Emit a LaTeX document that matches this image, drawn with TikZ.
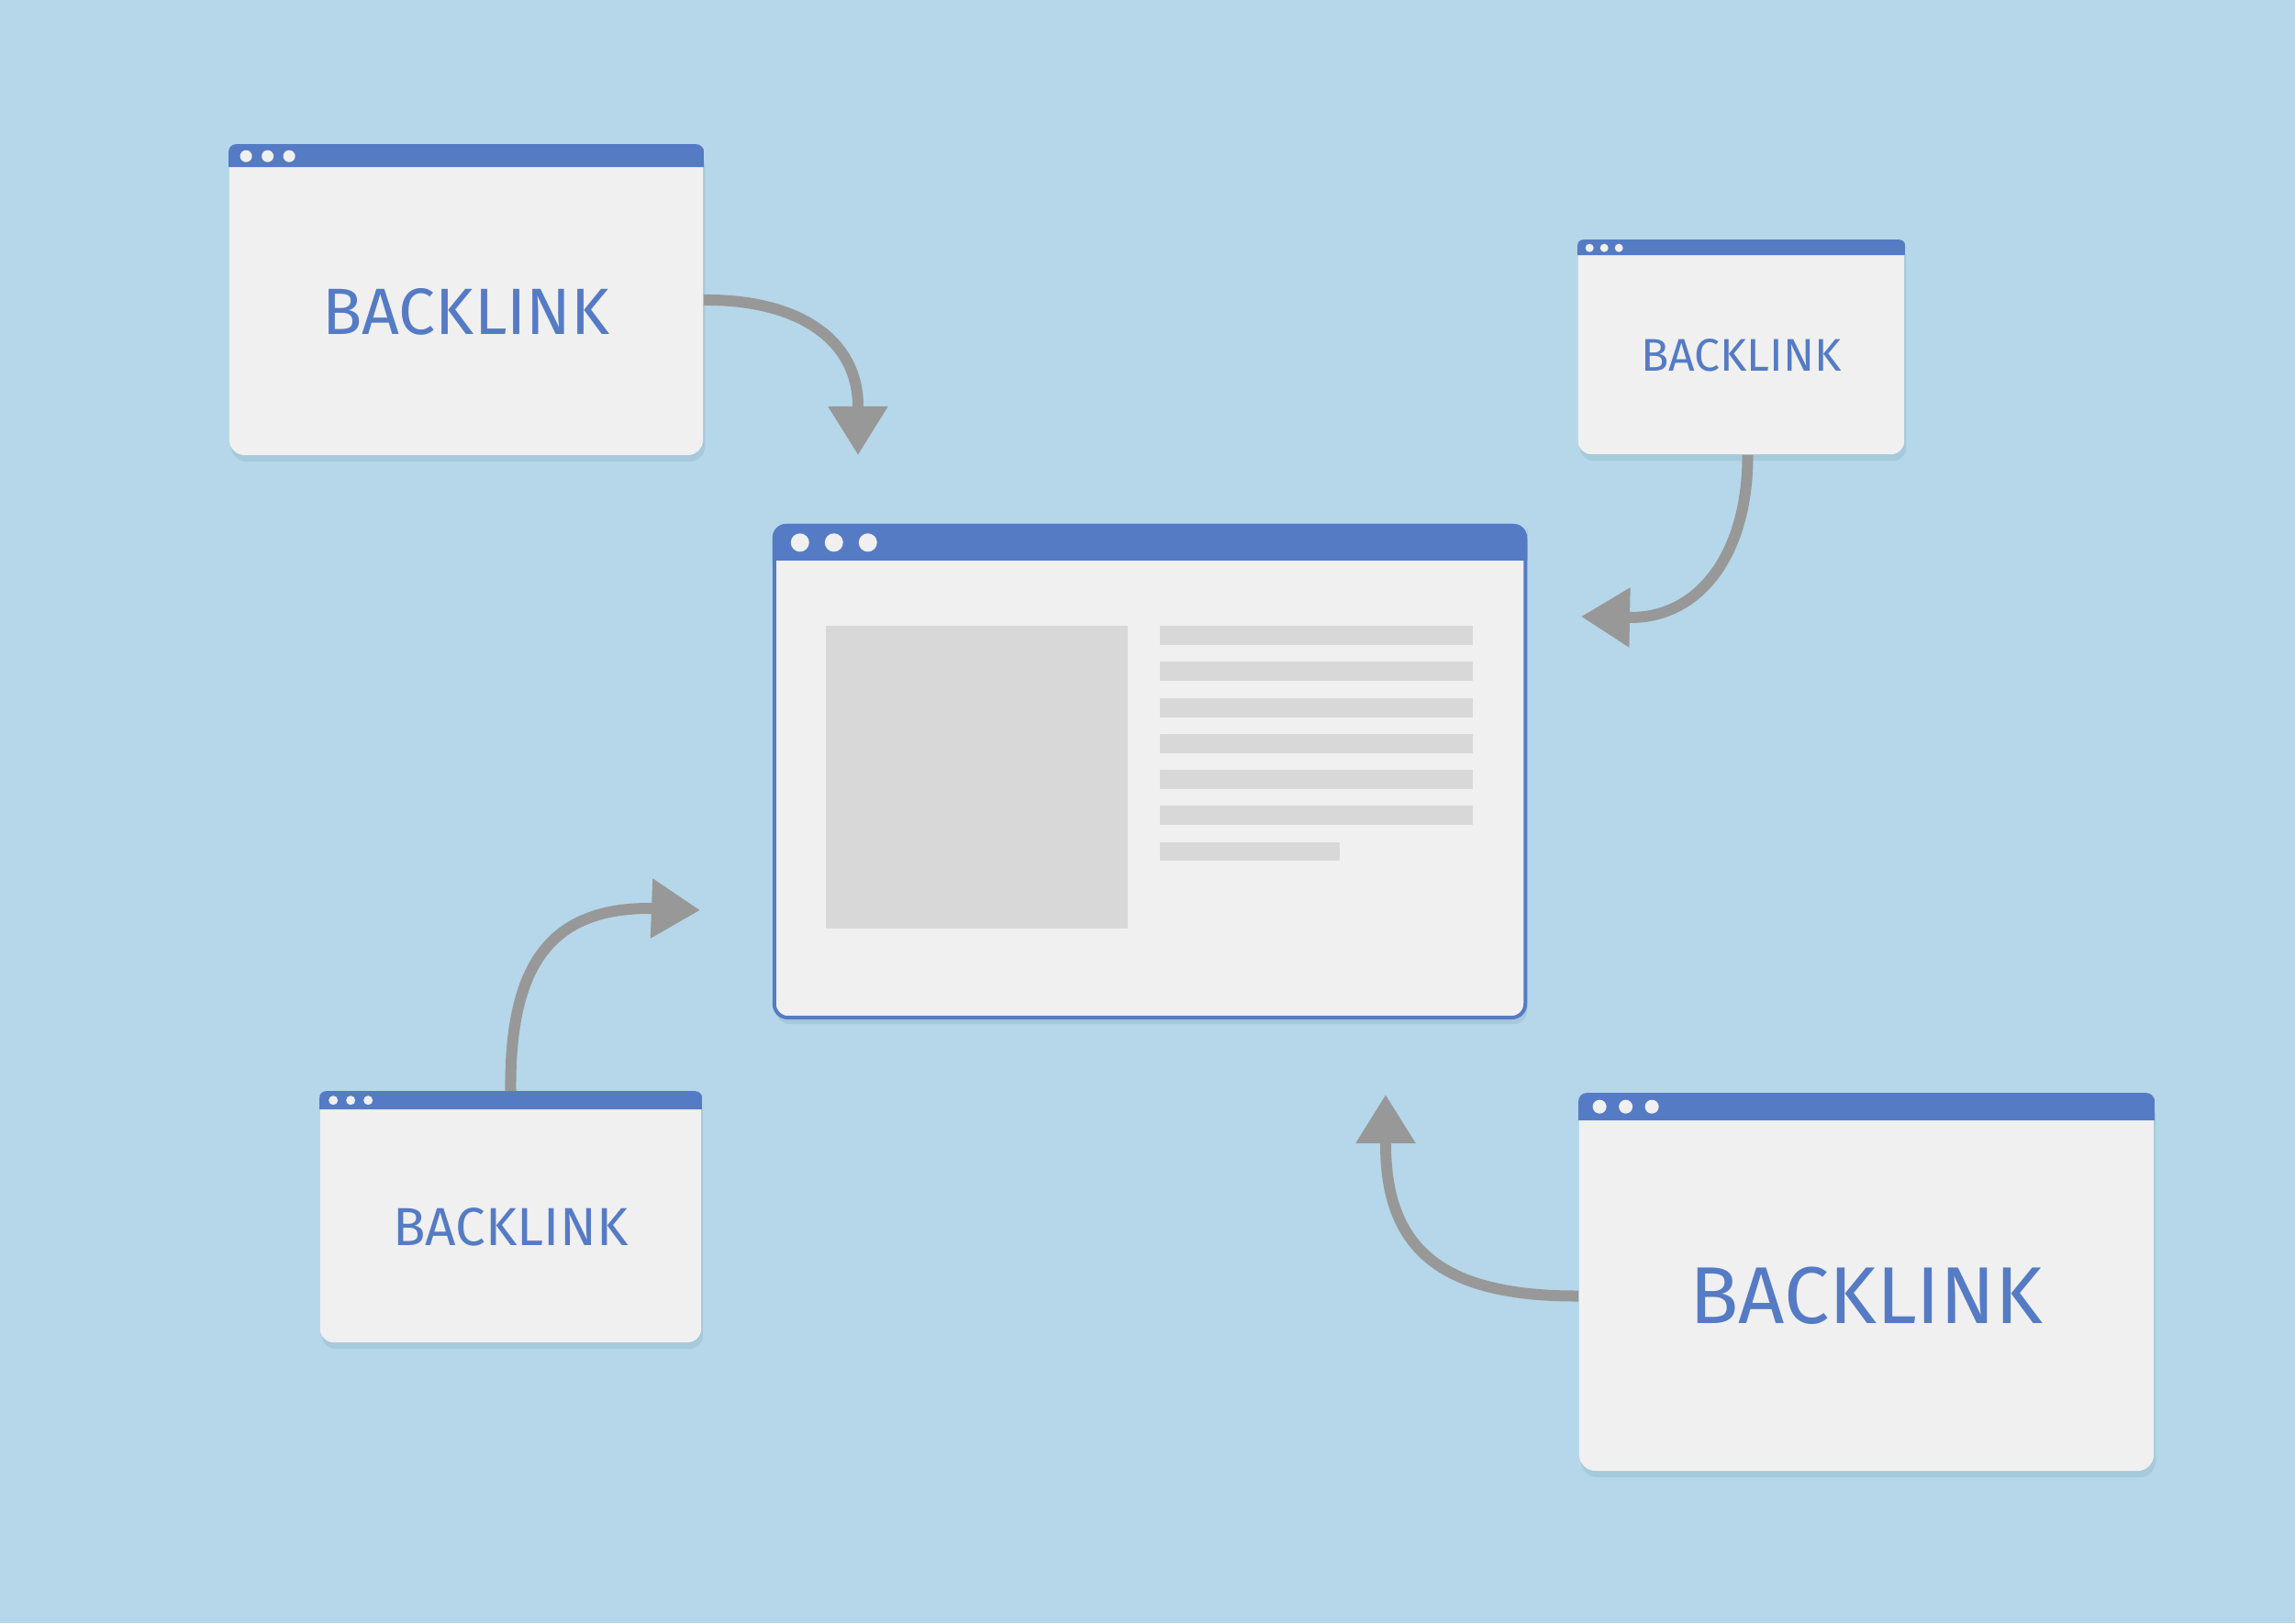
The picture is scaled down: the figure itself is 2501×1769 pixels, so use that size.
\documentclass[tikz,border=0pt]{standalone}
\usepackage{fontspec}
\setsansfont{Fira Sans}
\usepackage{tikz}
\usetikzlibrary{arrows.meta, positioning, calc, shadows}
\definecolor{fondo}{HTML}{B5D7E9}
\definecolor{azul}{HTML}{557BC5}
\definecolor{ventana}{HTML}{F0F0F0}
\definecolor{relleno}{HTML}{D8D8D8}
\definecolor{flechagris}{HTML}{989898}
\definecolor{sombra}{HTML}{5C8199}
\tikzset{
  every picture/.style={font=\sffamily, >=Triangle},
  marco/.style={rectangle, fill=ventana, inner sep=0pt, rounded corners=#1,
                drop shadow={shadow xshift=0.6pt, shadow yshift=-2pt, opacity=0.16, fill=sombra}},
  marco/.default=0.14cm,
  rotulo/.style={text=azul, inner sep=0pt},
  punto/.style={fill=ventana},
  flecha/.style={-{Triangle[length=0.53cm, width=0.62cm]}, line width=0.12cm, flechagris},
}
\begin{document}
\begin{tikzpicture}[x=0.01cm, y=0.01cm]
  \fill[fondo] (0,0) rectangle (2501,1769);
  \useasboundingbox (0,0) rectangle (2501,1769);

  % ventanas
  \node[marco=0.15cm, draw=azul, line width=0.04cm,
        minimum width=8.18cm, minimum height=5.36cm] (web) at (1253,928) {};
  \node[marco=0.17cm, minimum width=5.16cm, minimum height=3.38cm] (arribaizq) at (508,1442) {};
  \node[marco=0.14cm, minimum width=3.55cm, minimum height=2.33cm] (arribader) at (1897.5,1390.5) {};
  \node[marco=0.15cm, minimum width=4.15cm, minimum height=2.73cm] (abajoizq) at (556.5,442.5) {};
  \node[marco=0.18cm, minimum width=6.26cm, minimum height=4.11cm] (abajoder) at (2034,371.5) {};

  % barras de titulo y puntos
  \foreach \n/\b/\r in {web/40/0.15cm, arribaizq/25/0.08cm, arribader/17/0.06cm,
                        abajoizq/20/0.07cm, abajoder/30/0.09cm}
    \fill[azul] ($(\n.north west)+(0,-\b)$) [rounded corners=\r] -- (\n.north west)
      -- (\n.north east) -- ($(\n.north east)+(0,-\b/2)$) [sharp corners]
      -- ($(\n.north east)+(0,-\b)$) -- cycle;
  \foreach \n/\dx/\s/\dy/\r in {web/30/37/20.5/10, arribaizq/19/23.5/13/6.5, arribader/13/16/9/4.5,
                                abajoizq/15/19/10/5, abajoder/23/28.5/15/7.5}
    \foreach \i in {0,1,2}
      \fill[punto] ($(\n.north west)+(\dx+\s*\i,-\dy)$) circle[radius=\r];

  % contenido de la pagina
  \fill[relleno] (900,1087) rectangle (1229,757);
  \foreach \k in {0,...,5}
    \fill[relleno] (1264,1087-39.3*\k) rectangle (1605,1066-39.3*\k);
  \fill[relleno] (1264,851) rectangle (1460,831);

  % rotulos
  \node[rotulo, font=\sffamily\fontsize{20.3}{24}\selectfont] (tarribaizq) at (508,1429.5) {BACKLINK};
  \node[rotulo, font=\sffamily\fontsize{14.2}{17}\selectfont] (tarribader) at (1897.5,1382) {BACKLINK};
  \node[rotulo, font=\sffamily\fontsize{16.6}{20}\selectfont] (tabajoizq) at (556.5,432) {BACKLINK};
  \node[rotulo, font=\sffamily\fontsize{25}{30}\selectfont] (tabajoder) at (2034,356.5) {BACKLINK};

  % flechas hacia la pagina
  \coordinate (puntaA) at (935,1273);
  \coordinate (puntaB) at (1723,1097);
  \coordinate (puntaD) at (763,777);
  \coordinate (puntaE) at (1510,576);
  \draw[flecha] (arribaizq.east) .. controls (870,1443) and (935,1399) .. (935,1326) -- (puntaA);
  \draw[flecha] ($(arribader.south)+(7,0)$) .. controls (1905,1168) and (1854,1096) .. (1777,1096) -- (puntaB);
  \draw[flecha] (abajoizq.north) .. controls (555,719) and (601,779) .. (708,779) -- (puntaD);
  \draw[flecha] (abajoder.west |- tabajoder) .. controls (1573,356) and (1510,406) .. (1510,522) -- (puntaE);
\end{tikzpicture}
\end{document}
